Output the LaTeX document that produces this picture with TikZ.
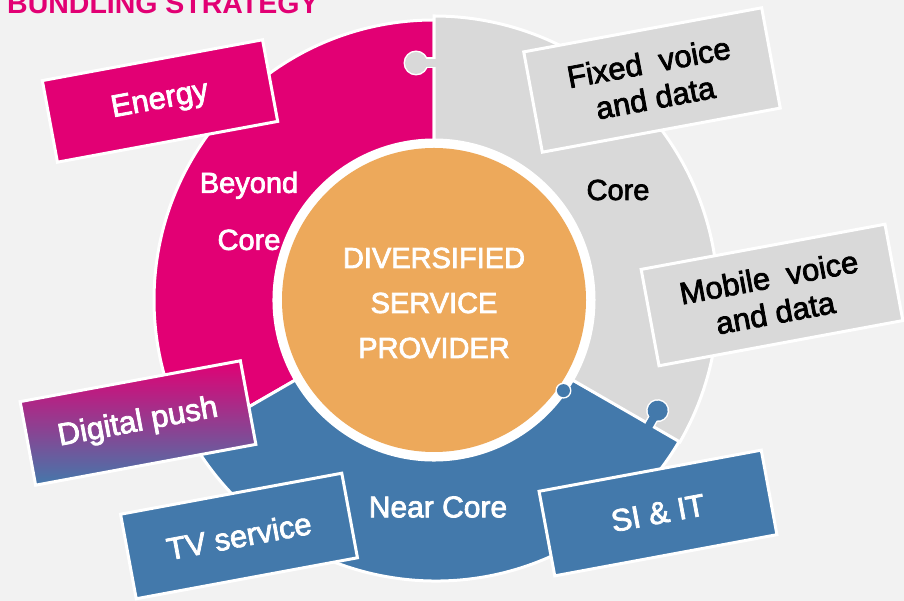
\documentclass[tikz,border=0pt]{standalone}
\usepackage{fontspec}
\setmainfont{Liberation Sans}
\newfontfamily\labelfont{Liberation Sans}[FakeBold=2.5]
\usetikzlibrary{positioning}
\definecolor{tmagenta}{HTML}{E20074}
\definecolor{tgray}{HTML}{D9D9D9}
\definecolor{tblue}{HTML}{4379AB}
\definecolor{torange}{HTML}{EDA95B}
\definecolor{tback}{HTML}{F2F2F2}

\tikzset{
  piece/.style={draw=white, line width=3pt},
  offer/.style={rectangle, draw=white, line width=3pt, align=center, rotate=10.5,
    inner sep=0pt, font=\labelfont\fontsize{31}{36}\selectfont},
  ringlabel/.style={align=center, font=\labelfont\fontsize{29}{57}\selectfont},
}

\begin{document}
\begin{tikzpicture}[x=1pt,y=1pt]

	\useasboundingbox (0,0) rectangle (904,601);
	\fill[tback] (0,0) rectangle (904,601);
	\coordinate (O) at (434,301);

	\begin{scope}[shift={(O)}]
		% ring pieces
		\fill[tmagenta, piece] (90:280) arc[start angle=90, end angle=210, radius=280]
			-- (210:160) arc[start angle=210, end angle=90, radius=160] -- cycle;
		\fill[tblue, piece] (210:280) arc[start angle=210, end angle=330, radius=282]
			-- (330:160) arc[start angle=330, end angle=210, radius=160] -- cycle;
		\fill[tgray, piece] (-30:284) arc[start angle=-30, end angle=90, radius=284]
			-- (90:160) arc[start angle=90, end angle=-30, radius=160] -- cycle;

		% knobs
		\begin{scope}[shift={(0,237)}, rotate=90]
			\fill[white] (0,18) circle[radius=12.5];
			\fill[white] (-5.5,0) rectangle (5.5,18);
			\fill[tgray] (0,18) circle[radius=11];
			\fill[tgray] (-4,-3) rectangle (4,18);
		\end{scope}
		\begin{scope}[shift={(-30:249)}, rotate=-30]
			\fill[white] (0,16) circle[radius=11.5];
			\fill[white] (-5.5,0) rectangle (5.5,16);
			\fill[tblue] (0,16) circle[radius=10];
			\fill[tblue] (-4,-3) rectangle (4,16);
		\end{scope}

		% centre disc
		\fill[white] (0,0) circle[radius=160];
		\fill[torange] (0,0) circle[radius=152];
		\fill[white] (-35:158) circle[radius=8];
		\fill[tblue] (-35:158) circle[radius=6.5];
	\end{scope}

	\node[align=center, text=white, font=\labelfont\fontsize{29}{45}\selectfont] (centre) at (434,298)
		{DIVERSIFIED\\SERVICE\\PROVIDER};

	% ring labels
	\node[ringlabel, text=white] (beyond) at (249,390) {Beyond\\Core};
	\node[ringlabel, text=black] (core) at (618,411) {Core};
	\node[ringlabel, text=white, font=\labelfont\fontsize{30}{36}\selectfont] (nearcore) at (438,94) {Near Core};

	% offer boxes
	\node[offer, fill=tmagenta, text=white, minimum width=224, minimum height=83] (energy) at (160,500) {Energy};
	\node[offer, fill=tgray, text=black, minimum width=242, minimum height=102] (fixed) at (652,521) {Fixed~ voice\\and data};
	\node[offer, fill=tgray, text=black, minimum width=248, minimum height=98] (mobile) at (772,306) {Mobile~ voice\\and data};
	\node[offer, top color=tmagenta, bottom color=tblue, text=white, minimum width=224, minimum height=85] (digital) at (138,178) {Digital push};
	\node[offer, fill=tblue, text=white, minimum width=225, minimum height=86] (tv) at (239,65) {TV service};
	\node[offer, fill=tblue, text=white, minimum width=226, minimum height=86] (siit) at (658,88) {SI \& IT};

	\node[anchor=base west, text=tmagenta, inner sep=0pt, font=\bfseries\fontsize{28.5}{30}\selectfont] (title) at (7,587) {BUNDLING STRATEGY};

\end{tikzpicture}
\end{document}
